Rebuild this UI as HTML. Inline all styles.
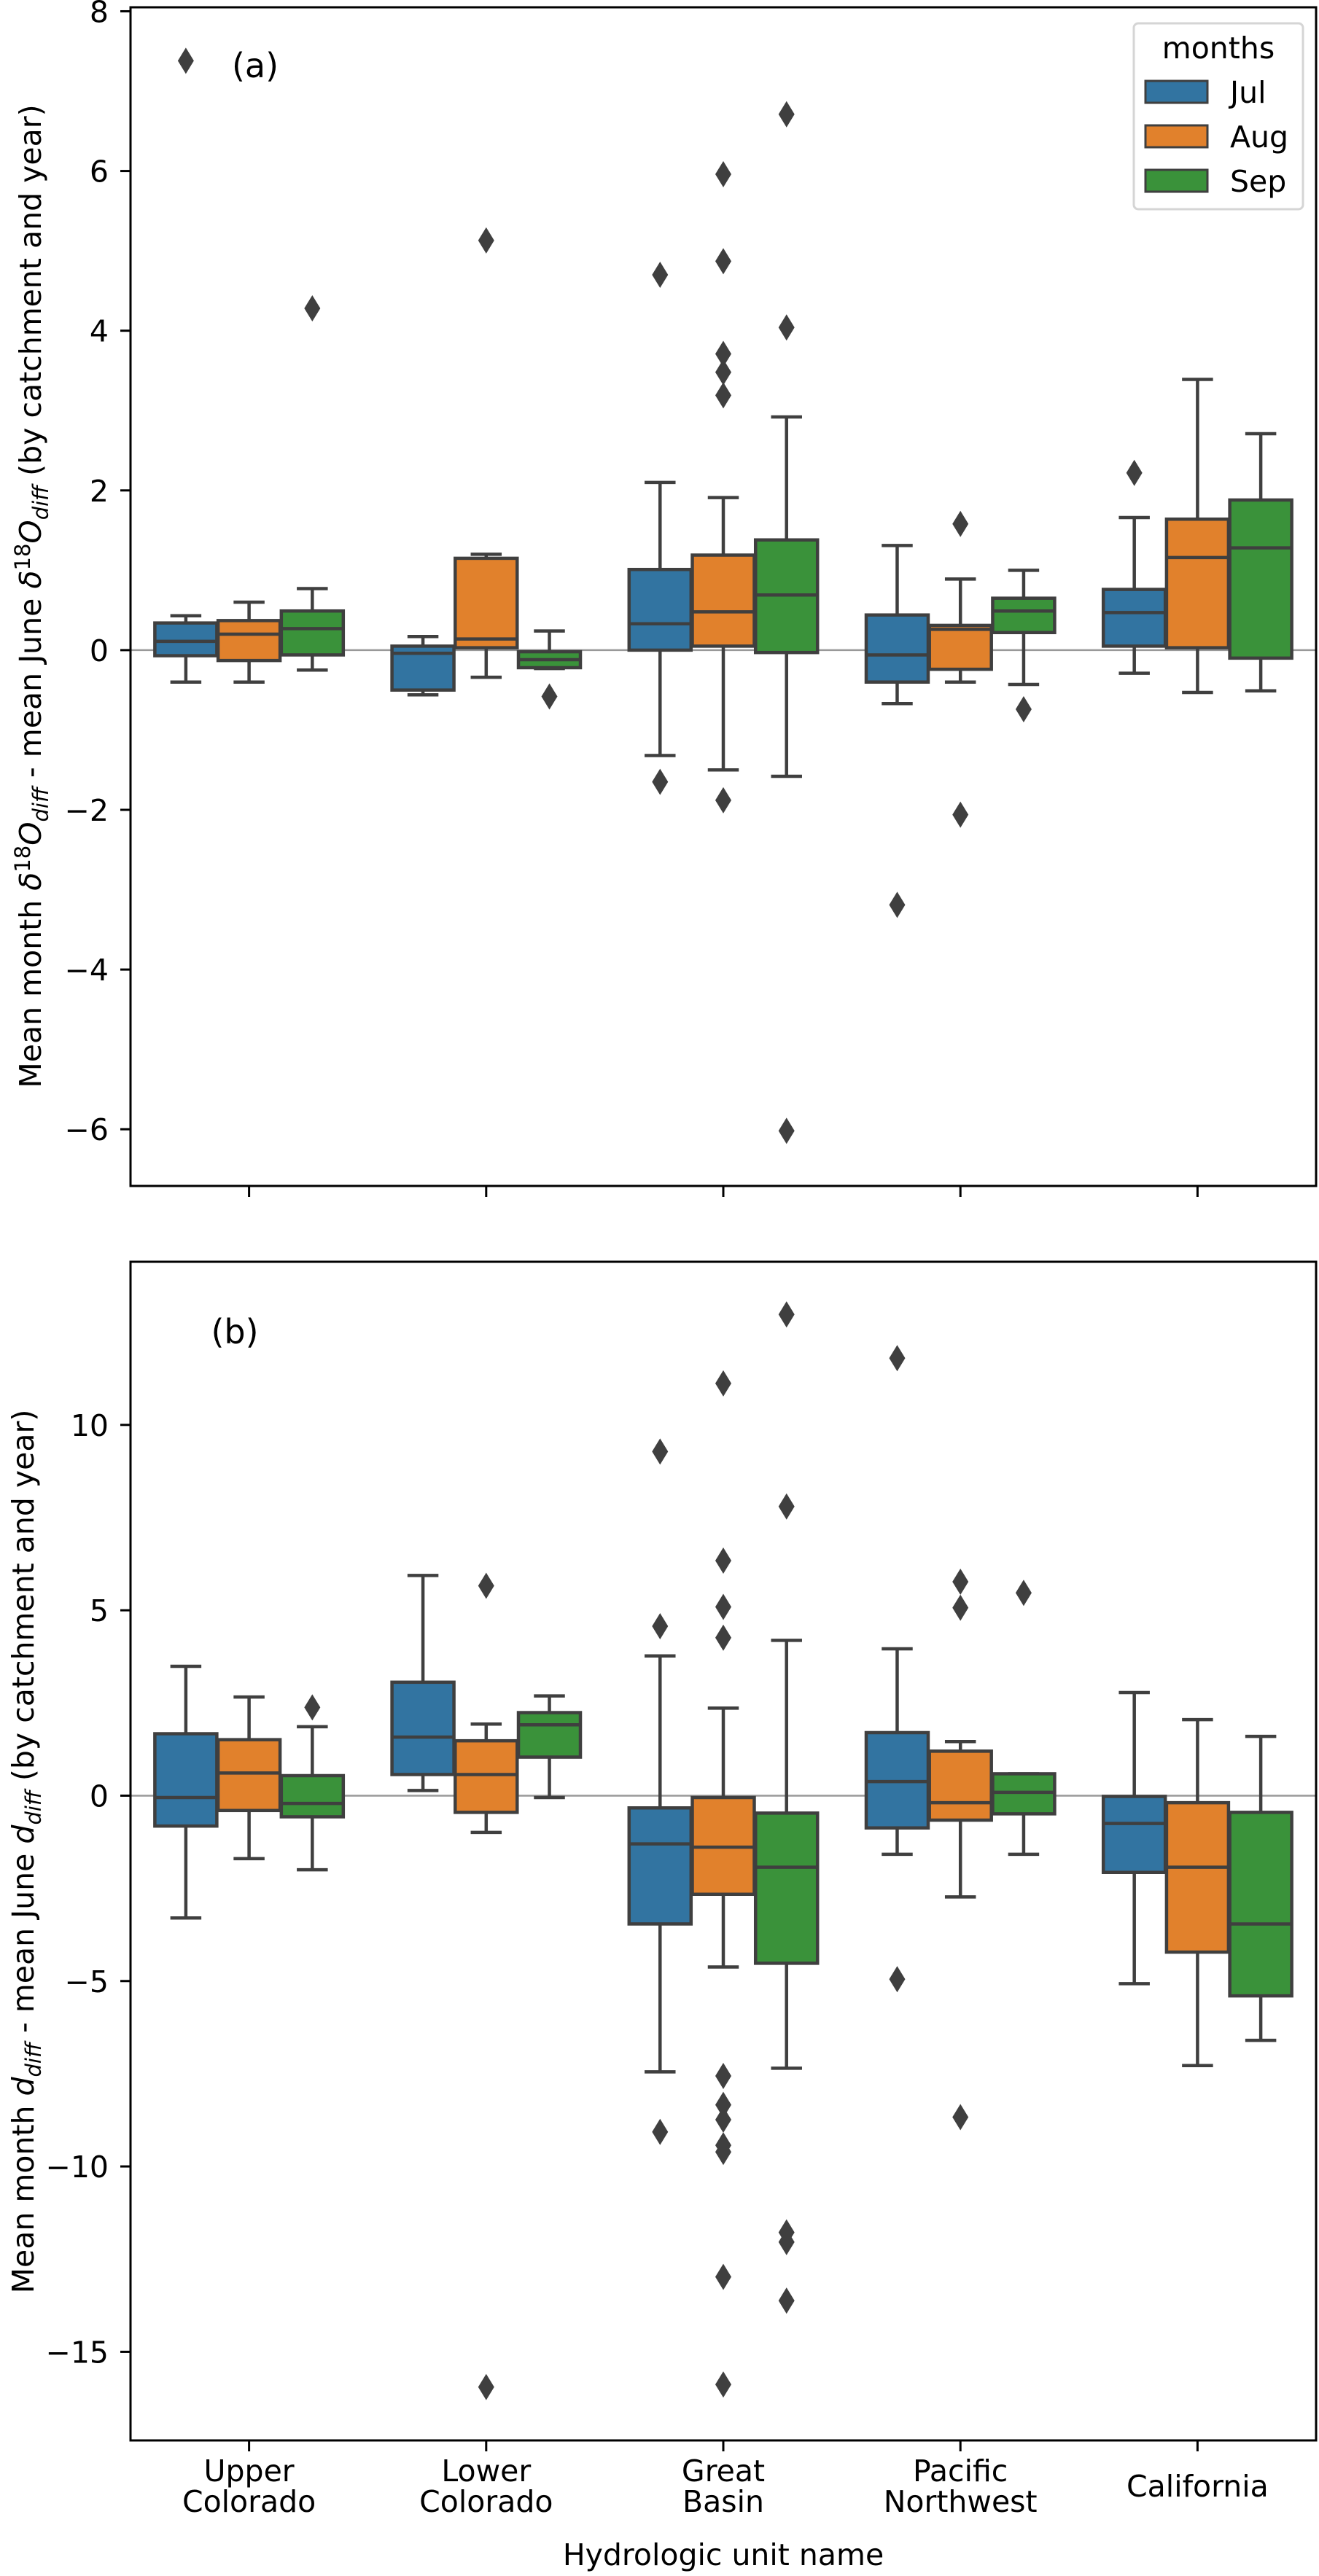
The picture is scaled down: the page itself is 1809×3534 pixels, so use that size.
<!DOCTYPE html>
<html><head><meta charset="utf-8"><style>
body{margin:0;background:#fff}
svg text{font-family:"DejaVu Sans","Liberation Sans",sans-serif;fill:#000}
</style></head><body>
<svg id="fig" width="1809" height="3529" viewBox="0 0 1809 3529" xmlns="http://www.w3.org/2000/svg"></svg>
<script>
const categories=["Upper Colorado","Lower Colorado","Great Basin","Pacific Northwest","California"];
const catLines=[["Upper","Colorado"],["Lower","Colorado"],["Great","Basin"],["Pacific","Northwest"],["California"]];
const hues=["Jul","Aug","Sep"];
const hueColors=["#3274a1","#e1812c","#3a923a"];
// panel (a) stats per category per hue: [low, q1, med, q3, high]
const statsA=[
 [[-0.40,-0.07,0.11,0.34,0.43],[-0.40,-0.13,0.20,0.37,0.60],[-0.25,-0.06,0.27,0.49,0.77]],
 [[-0.56,-0.50,-0.04,0.05,0.17],[-0.34,0.03,0.14,1.15,1.20],[-0.23,-0.22,-0.12,-0.02,0.24]],
 [[-1.32,0.00,0.33,1.01,2.10],[-1.50,0.05,0.48,1.19,1.91],[-1.58,-0.03,0.69,1.38,2.92]],
 [[-0.67,-0.40,-0.06,0.44,1.31],[-0.40,-0.24,0.26,0.31,0.89],[-0.43,0.22,0.49,0.65,1.00]],
 [[-0.29,0.05,0.47,0.76,1.66],[-0.53,0.03,1.16,1.64,3.39],[-0.51,-0.10,1.28,1.88,2.71]]
];
const outliersA=[
 [[7.38],[],[4.28]],
 [[],[5.13],[-0.58]],
 [[4.70,-1.65],[5.96,4.87,3.71,3.48,3.19,-1.88],[6.71,4.04,-6.02]],
 [[-3.19],[1.58,-2.06],[-0.74]],
 [[2.22],[],[]]
];
const statsB=[
 [[-3.30,-0.82,-0.05,1.67,3.49],[-1.70,-0.40,0.61,1.51,2.66],[-2.00,-0.57,-0.21,0.54,1.86]],
 [[0.14,0.57,1.58,3.06,5.94],[-0.99,-0.45,0.57,1.48,1.93],[-0.05,1.04,1.91,2.24,2.69]],
 [[-7.45,-3.46,-1.30,-0.33,3.77],[-4.62,-2.66,-1.39,-0.05,2.36],[-7.35,-4.52,-1.93,-0.47,4.19]],
 [[-1.58,-0.87,0.38,1.70,3.96],[-2.73,-0.66,-0.19,1.20,1.46],[-1.58,-0.49,0.09,0.59,0.59]],
 [[-5.07,-2.07,-0.75,-0.02,2.78],[-7.28,-4.22,-1.93,-0.19,2.05],[-6.60,-5.40,-3.46,-0.45,1.60]]
];
const outliersB=[
 [[],[],[2.38]],
 [[],[5.66,-15.95],[]],
 [[9.28,4.57,-9.07],[11.12,6.34,5.09,4.26,-7.56,-8.34,-8.74,-9.43,-9.61,-12.98,-15.88],[12.98,7.80,-11.78,-12.04,-13.62]],
 [[11.80,-4.95],[5.77,5.07,-8.67],[5.47]],
 [[],[],[]]
];
const ticksA=[-6,-4,-2,0,2,4,6,8];
const ticksB=[-15,-10,-5,0,5,10];
const NS="http://www.w3.org/2000/svg";
const svg=document.getElementById('fig');
function mk(t,a,p){const e=document.createElementNS(NS,t);for(const k in a)e.setAttribute(k,a[k]);(p||svg).appendChild(e);return e;}
const X0=179,X1=1805;
const FS=41;
function xs(v){return X0+(v+0.5)/5*(X1-X0);}
function panel(name,y0,y1,ymin,ymax,stats,outs,ticks,tag,tagXY){
  const g=mk('g',{});
  
  
  const ys=v=>y1-(v-ymin)/(ymax-ymin)*(y1-y0);
  const zl=mk('line',{x1:X0,x2:X1,y1:ys(0),y2:ys(0),stroke:'#999',"stroke-width":2.5},g);
  
  
  const slot=0.8/3,bw=slot*0.98;
  stats.forEach((cat,ci)=>{cat.forEach((s,hi)=>{
    const cx=ci+(hi-1)*slot;
    const bg=mk('g',{},g);
    
    
    const st={stroke:'#3f3f3f',"stroke-width":4.5};
    const px=xs(cx),hw=(xs(bw)-xs(0))/2,cw=hw/2;
    mk('line',Object.assign({x1:px,x2:px,y1:ys(s[0]),y2:ys(s[1])},st),bg);
    mk('line',Object.assign({x1:px,x2:px,y1:ys(s[3]),y2:ys(s[4])},st),bg);
    mk('line',Object.assign({x1:px-cw,x2:px+cw,y1:ys(s[0]),y2:ys(s[0])},st),bg);
    mk('line',Object.assign({x1:px-cw,x2:px+cw,y1:ys(s[4]),y2:ys(s[4])},st),bg);
    mk('rect',Object.assign({x:px-hw,y:ys(s[3]),width:2*hw,height:Math.max(0.5,ys(s[1])-ys(s[3])),fill:hueColors[hi]},st),bg);
    mk('line',Object.assign({x1:px-hw,x2:px+hw,y1:ys(s[2]),y2:ys(s[2])},st),bg);
    outs[ci][hi].forEach(v=>{
      const y=ys(v);
      const d=mk('path',{d:`M${px} ${y-18}L${px+11} ${y}L${px} ${y+18}L${px-11} ${y}Z`,fill:'#3f3f3f'},bg);
      
      
    });
  });});
  const fr=mk('rect',{x:X0,y:y0,width:X1-X0,height:y1-y0,fill:'none',stroke:'#000',"stroke-width":3},g);
  
  
  ticks.forEach(t=>{
    const y=ys(t);
    mk('line',{x1:X0-14,x2:X0,y1:y,y2:y,stroke:'#000',"stroke-width":3},g);
    const tx=mk('text',{x:X0-30,y:y+15,"text-anchor":'end',"font-size":FS},g);
    tx.textContent=(t<0?'\u2212'+(-t):''+t);
    
    
  });
  for(let i=0;i<5;i++){mk('line',{x1:xs(i),x2:xs(i),y1:y1,y2:y1+15,stroke:'#000',"stroke-width":3},g);}
  const tg=mk('text',{x:tagXY[0],y:tagXY[1],"font-size":46,"text-anchor":'middle'},g);
  tg.textContent=tag;
  
  
  return ys;
}
panel('panel-a',10,1627,-6.71,8.05,statsA,outliersA,ticksA,'(a)',[350,106]);
panel('panel-b',1731,3348,-17.39,14.40,statsB,outliersB,ticksB,'(b)',[322,1843]);
// y labels
const yla=mk('text',{transform:'translate(56,818) rotate(-90)',"text-anchor":'middle',"font-size":FS});
yla.innerHTML='Mean month <tspan font-style="italic">δ</tspan><tspan dy="-15" font-size="29">18</tspan><tspan dy="15" font-style="italic">O</tspan><tspan dy="10" font-size="29" font-style="italic">diff</tspan><tspan dy="-10"> - mean June </tspan><tspan font-style="italic">δ</tspan><tspan dy="-15" font-size="29">18</tspan><tspan dy="15" font-style="italic">O</tspan><tspan dy="10" font-size="29" font-style="italic">diff</tspan><tspan dy="-10"> (by catchment and year)</tspan>';


const ylb=mk('text',{transform:'translate(46,2540) rotate(-90)',"text-anchor":'middle',"font-size":FS});
ylb.innerHTML='Mean month <tspan font-style="italic">d</tspan><tspan dy="10" font-size="29" font-style="italic">diff</tspan><tspan dy="-10"> - mean June </tspan><tspan font-style="italic">d</tspan><tspan dy="10" font-size="29" font-style="italic">diff</tspan><tspan dy="-10"> (by catchment and year)</tspan>';


// x tick labels
catLines.forEach((ls,i)=>{
  const t=mk('text',{x:xs(i),"text-anchor":'middle',"font-size":FS});
  if(ls.length===1){t.setAttribute('y',3425);t.textContent=ls[0];}
  else{t.innerHTML=`<tspan x="${xs(i)}" y="3404">${ls[0]}</tspan><tspan x="${xs(i)}" y="3446">${ls[1]}</tspan>`;}
  
  
});
const xl=mk('text',{x:(X0+X1)/2,y:3519,"text-anchor":'middle',"font-size":FS});
xl.textContent='Hydrologic unit name';


// legend
const lg=mk('g',{});


mk('rect',{x:1555,y:32,width:232,height:255,rx:6,fill:'#fff',stroke:'#d5d5d5',"stroke-width":3},lg);
const lt=mk('text',{x:1671,y:80,"text-anchor":'middle',"font-size":FS},lg);
lt.textContent='months';
hues.forEach((h,i)=>{
  const y=[126,187,248][i];
  const e=mk('g',{},lg);
  
  
  mk('rect',{x:1571,y:y-15,width:85,height:30,fill:hueColors[i],stroke:'#3f3f3f',"stroke-width":3},e);
  const t=mk('text',{x:1687,y:y+15,"font-size":FS},e);
  t.textContent=h;
});
</script>
</body></html>
